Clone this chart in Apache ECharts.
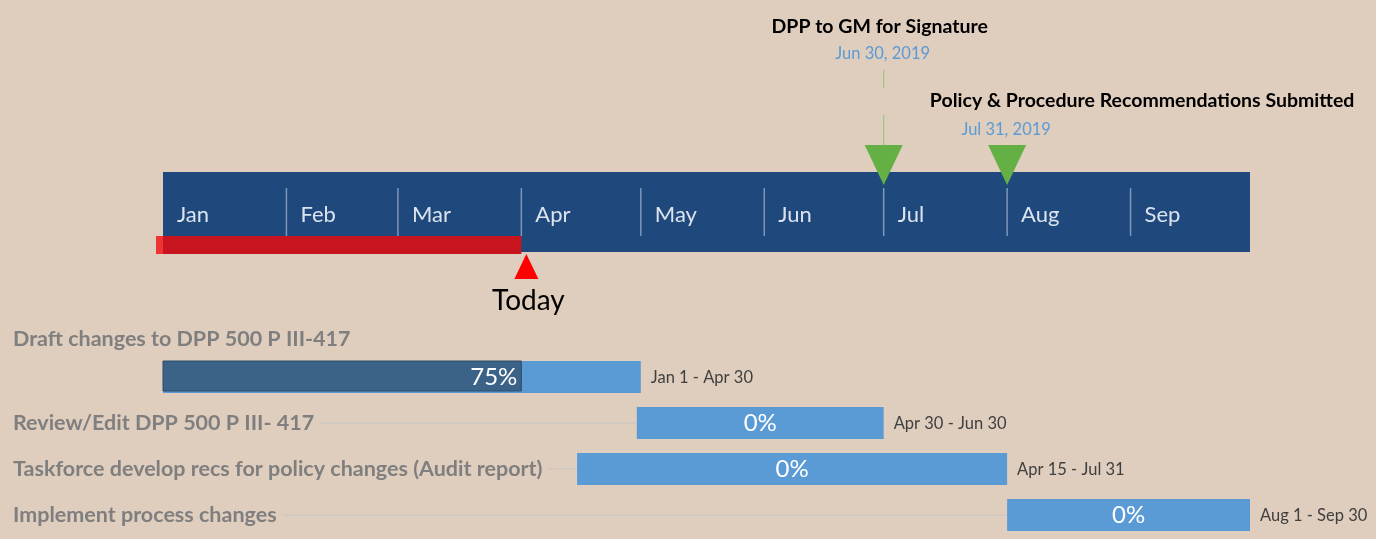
<!DOCTYPE html>
<html>
<head>
<meta charset="utf-8">
<title>Timeline</title>
<script src="https://cdn.jsdelivr.net/npm/echarts@6/dist/echarts.min.js"></script>
<style>
  html, body { margin: 0; padding: 0; background: #DFCDBD; }
  #chart { width: 1376px; height: 539px; }
</style>
</head>
<body>
<div id="chart"></div>
<script>
// timeline range and month ticks
const axisStart = '2019-01-01';
const axisEnd = '2019-10-01';
const months = ['Jan', 'Feb', 'Mar', 'Apr', 'May', 'Jun', 'Jul', 'Aug', 'Sep'];
const monthStarts = ['2019-01-01', '2019-02-01', '2019-03-01', '2019-04-01', '2019-05-01',
  '2019-06-01', '2019-07-01', '2019-08-01', '2019-09-01'];
const today = '2019-04-01';

// milestones
const milestoneNames = ['DPP to GM for Signature', 'Policy & Procedure Recommendations Submitted'];
const milestoneDates = ['2019-06-30', '2019-07-31'];

// tasks
const taskNames = [
  'Draft changes to DPP 500 P III-417',
  'Review/Edit DPP 500 P III- 417',
  'Taskforce develop recs for policy changes (Audit report)',
  'Implement process changes'
];
const taskStarts = ['2019-01-01', '2019-04-30', '2019-04-15', '2019-08-01'];
const taskEnds = ['2019-04-30', '2019-06-30', '2019-07-31', '2019-09-30'];
const taskProgress = [75, 0, 0, 0];

// label placement for milestones (style only)
const milestoneLabelStyle = [{dx: -4, level: 0}, {dx: 135, level: 1}];

const BG = '#DFCDBD';
const FONT = 'Lato, "Open Sans", sans-serif';

function day(s, plus) {
  const p = s.split('-').map(Number);
  return +new Date(p[0], p[1] - 1, p[2] + (plus || 0));
}
function fmt(s, withYear) {
  const p = s.split('-').map(Number);
  return months[p[1] - 1] + ' ' + p[2] + (withYear ? ', ' + p[0] : '');
}

const chart = echarts.init(document.getElementById('chart'));

chart.setOption({
  backgroundColor: BG,
  animation: false,
  grid: [
    {left: 163, right: 126, top: 172, height: 80, show: true, backgroundColor: '#1F497D', borderWidth: 0},
    {left: 163, right: 126, top: 354, height: 184}
  ],
  xAxis: [
    {type: 'time', gridIndex: 0, min: day(axisStart), max: day(axisEnd), show: false},
    {type: 'time', gridIndex: 1, min: day(axisStart), max: day(axisEnd), show: false}
  ],
  yAxis: [
    {type: 'value', gridIndex: 0, min: 0, max: 1, show: false},
    {type: 'category', gridIndex: 1, data: taskNames, inverse: true, show: false}
  ],
  series: [
    { // month separators and names
      type: 'custom',
      xAxisIndex: 0, yAxisIndex: 0,
      encode: {x: 0},
      data: monthStarts.map((d, i) => [day(d), i]),
      renderItem: function (params, api) {
        const x = api.coord([api.value(0), 0])[0];
        const top = params.coordSys.y;
        const i = api.value(1);
        const children = [{
          type: 'text', x: x + 14, y: top + 43,
          style: {text: months[i], fill: '#DCE3EE', font: '22px ' + FONT, align: 'left', verticalAlign: 'middle'}
        }];
        if (i > 0) {
          children.push({
            type: 'line', shape: {x1: x, y1: top + 16, x2: x, y2: top + 64},
            style: {stroke: '#7F97B8', lineWidth: 1.5}
          });
        }
        return {type: 'group', children: children};
      }
    },
    { // elapsed time bar
      type: 'custom',
      xAxisIndex: 0, yAxisIndex: 0,
      encode: {x: [0, 1]},
      data: [[day(axisStart), day(today)]],
      renderItem: function (params, api) {
        const x0 = api.coord([api.value(0), 0])[0];
        const x1 = api.coord([api.value(1), 0])[0];
        const top = params.coordSys.y;
        return {type: 'group', children: [
          {type: 'rect', shape: {x: x0 - 7, y: top + 64, width: 7, height: 18}, style: {fill: '#EE3333'}},
          {type: 'rect', shape: {x: x0, y: top + 64, width: x1 - x0, height: 18}, style: {fill: '#C8141F'}}
        ]};
      }
    },
    { // today marker
      type: 'custom',
      xAxisIndex: 0, yAxisIndex: 0,
      encode: {x: 0},
      data: [[day(today)]],
      renderItem: function (params, api) {
        const x = api.coord([api.value(0), 0])[0] + 5;
        const top = params.coordSys.y;
        return {type: 'group', children: [
          {type: 'polygon', shape: {points: [[x, top + 82], [x + 12, top + 107], [x - 12, top + 107]]},
            style: {fill: '#FF0000'}},
          {type: 'text', x: x + 2, y: top + 129,
            style: {text: 'Today', fill: '#000', font: '28px ' + FONT, align: 'center', verticalAlign: 'middle'}}
        ]};
      }
    },
    { // milestones
      type: 'custom',
      xAxisIndex: 0, yAxisIndex: 0,
      encode: {x: 0},
      data: milestoneDates.map((d, i) => [day(d, 1), i]),
      renderItem: function (params, api) {
        const x = api.coord([api.value(0), 0])[0];
        const top = params.coordSys.y;
        const i = api.value(1);
        const st = milestoneLabelStyle[i];
        const nameY = st.level === 0 ? 27 : 101;
        const dateY = st.level === 0 ? 54 : 130;
        const children = [
          {type: 'polygon', shape: {points: [[x - 19, top - 27], [x + 19, top - 27], [x, top + 13]]},
            style: {fill: '#64B045'}},
          {type: 'text', x: x + st.dx, y: nameY,
            style: {text: milestoneNames[i], fill: '#000', font: 'bold 19.5px ' + FONT, align: 'center', verticalAlign: 'middle'}},
          {type: 'text', x: x - 1, y: dateY,
            style: {text: fmt(milestoneDates[i], true), fill: '#5B9BD5', font: '16.5px ' + FONT, align: 'center', verticalAlign: 'middle'}}
        ];
        if (st.level === 0) {
          children.push(
            {type: 'line', shape: {x1: x, y1: 70, x2: x, y2: 88}, style: {stroke: '#9CC685', lineWidth: 1.2}},
            {type: 'line', shape: {x1: x, y1: 115, x2: x, y2: top - 27}, style: {stroke: '#9CC685', lineWidth: 1.2}}
          );
        }
        return {type: 'group', children: children};
      }
    },
    { // task bars
      type: 'custom',
      xAxisIndex: 1, yAxisIndex: 1,
      encode: {x: [1, 2], y: 0},
      data: taskNames.map((n, i) => [i, day(taskStarts[i]), day(taskEnds[i], 1), taskProgress[i]]),
      renderItem: function (params, api) {
        const i = api.value(0);
        const start = api.coord([api.value(1), i]);
        const end = api.coord([api.value(2), i]);
        const cy = start[1];
        const x0 = start[0], x1 = end[0];
        const w = x1 - x0;
        const p = api.value(3);
        const h = 32;
        const labelAbove = api.value(1) <= day(axisStart);
        const children = [];
        if (!labelAbove) {
          children.push({type: 'line', shape: {x1: 13, y1: cy, x2: x0, y2: cy},
            style: {stroke: '#CEC9C3', lineWidth: 1.5}});
        }
        children.push({
          type: 'text', x: 13, y: labelAbove ? cy - 38 : cy,
          style: {text: taskNames[i], fill: '#7F7F7F', font: 'bold 21.5px ' + FONT, align: 'left',
            verticalAlign: 'middle', backgroundColor: BG, padding: [2, 6, 2, 0]}
        });
        children.push({type: 'rect', shape: {x: x0, y: cy - h / 2, width: w, height: h},
          style: {fill: '#5B9BD5'}});
        if (p > 0) {
          const pw = w * p / 100;
          children.push({type: 'rect', shape: {x: x0, y: cy - h / 2, width: pw, height: h - 2},
            style: {fill: '#3B6388', stroke: '#2F4C6A', lineWidth: 1}});
          children.push({type: 'text', x: x0 + pw - 4, y: cy,
            style: {text: p + '%', fill: '#fff', font: '24px ' + FONT, align: 'right', verticalAlign: 'middle'}});
        } else {
          children.push({type: 'text', x: x0 + w / 2, y: cy,
            style: {text: p + '%', fill: '#fff', font: '24px ' + FONT, align: 'center', verticalAlign: 'middle'}});
        }
        children.push({type: 'text', x: x1 + 10, y: cy + 1,
          style: {text: fmt(taskStarts[i]) + ' - ' + fmt(taskEnds[i]), fill: '#404040', font: '16.5px ' + FONT,
            align: 'left', verticalAlign: 'middle'}});
        return {type: 'group', children: children};
      }
    }
  ]
});
</script>
</body>
</html>
